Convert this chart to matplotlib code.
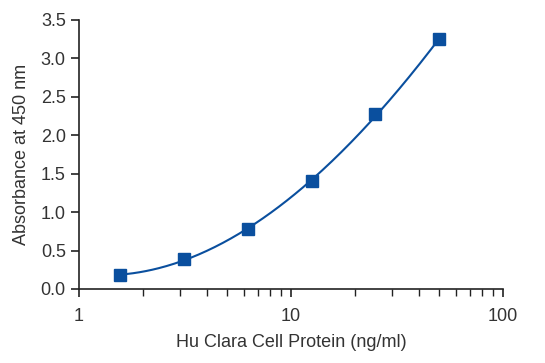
#!/usr/bin/env python3
"""
Standard curve: Hu Clara Cell Protein ELISA
"""

import numpy as np
import matplotlib
matplotlib.use('Agg')
import matplotlib.pyplot as plt
from matplotlib.ticker import LogLocator, NullFormatter, FixedLocator, FixedFormatter

# data
concentration = [1.5625, 3.125, 6.25, 12.5, 25, 50]
absorbance = [0.18, 0.39, 0.78, 1.40, 2.27, 3.25]
x_ticks = [1, 10, 100]
x_tick_labels = ['1', '10', '100']
y_ticks = [0.0, 0.5, 1.0, 1.5, 2.0, 2.5, 3.0, 3.5]

blue = '#0a4f9e'
axis_col = '#222222'
label_font = ['Liberation Sans Narrow', 'Liberation Sans', 'DejaVu Sans']

fig = plt.figure(figsize=(5.45, 3.63), dpi=100)
ax = fig.add_axes([0.145, 0.204, 0.778, 0.741])

# smooth fitted curve in log-x space
lx = np.log10(concentration)
coef = np.polyfit(lx, absorbance, 3)
fx = np.linspace(lx[0], lx[-1], 200)
ax.plot(10 ** fx, np.polyval(coef, fx), color=blue, lw=1.5, zorder=2)
ax.plot(concentration, absorbance, 's', color=blue, ms=9, zorder=3)

ax.set_xscale('log')
ax.set_xlim(1, 100)
ax.set_ylim(0, 3.5)
ax.xaxis.set_major_locator(FixedLocator(x_ticks))
ax.xaxis.set_major_formatter(FixedFormatter(x_tick_labels))
ax.xaxis.set_minor_locator(LogLocator(base=10, subs=np.arange(2, 10)))
ax.xaxis.set_minor_formatter(NullFormatter())
ax.set_yticks(y_ticks)
ax.set_yticklabels([f'{v:.1f}' for v in y_ticks])

for side in ('top', 'right'):
    ax.spines[side].set_visible(False)
for side in ('left', 'bottom'):
    ax.spines[side].set_color(axis_col)
    ax.spines[side].set_linewidth(1.2)

ax.tick_params(axis='both', which='major', direction='out', length=6, width=1.2,
               color=axis_col, labelcolor='#333333', labelsize=13)
ax.tick_params(axis='x', which='minor', direction='out', length=5, width=1.0, color=axis_col)
ax.tick_params(axis='x', which='major', pad=8)
for lab in ax.get_xticklabels() + ax.get_yticklabels():
    lab.set_family(['Liberation Sans', 'DejaVu Sans'])

ax.set_xlabel('Hu Clara Cell Protein (ng/ml)', fontsize=13, color='#333333',
              family=label_font, labelpad=6)
ax.set_ylabel('Absorbance at 450 nm', fontsize=13, color='#333333',
              family=label_font, labelpad=8)

fig.savefig('out.png', dpi=100, facecolor='white')
